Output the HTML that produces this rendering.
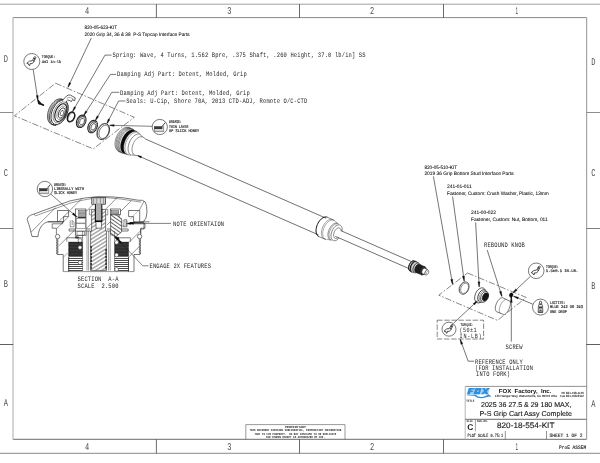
<!DOCTYPE html>
<html lang="en">
<head>
<meta charset="utf-8">
<title>820-18-554-KIT - 2025 36 27.5 &amp; 29 180 MAX, P-S Grip Cart Assy Complete</title>
<style>
html,body{margin:0;padding:0;background:#fff;overflow:hidden;}
body{position:relative;width:600px;height:463px;overflow:hidden;font-family:"Liberation Sans",sans-serif;}
svg{display:block;position:absolute;left:0;top:0;}
svg.main{filter:grayscale(1);}
svg text{text-rendering:geometricPrecision;}
</style>
</head>
<body>
<svg class="main" width="600" height="463" viewBox="0 0 600 463">
<rect x="0" y="0" width="600" height="463" fill="#ffffff"/>
<line x1="0.00" y1="4.20" x2="600.00" y2="4.20" stroke="#a0a0a0" stroke-width="1.0" />
<line x1="0.00" y1="453.30" x2="600.00" y2="453.30" stroke="#7a7a7a" stroke-width="0.9" />
<line x1="13.00" y1="17.60" x2="586.30" y2="17.60" stroke="#7a7a7a" stroke-width="0.9" />
<line x1="13.00" y1="439.30" x2="586.30" y2="439.30" stroke="#5a5a5a" stroke-width="0.9" />
<line x1="13.00" y1="17.20" x2="13.00" y2="439.70" stroke="#b8b8b8" stroke-width="1.2" />
<line x1="586.60" y1="17.20" x2="586.60" y2="439.70" stroke="#a4a4a4" stroke-width="1.2" />
<line x1="156.40" y1="4.00" x2="156.40" y2="17.80" stroke="#5c5c5c" stroke-width="0.9" />
<line x1="156.40" y1="439.10" x2="156.40" y2="453.60" stroke="#5c5c5c" stroke-width="0.9" />
<line x1="299.50" y1="4.00" x2="299.50" y2="17.80" stroke="#5c5c5c" stroke-width="0.9" />
<line x1="299.50" y1="439.10" x2="299.50" y2="453.60" stroke="#5c5c5c" stroke-width="0.9" />
<line x1="443.50" y1="4.00" x2="443.50" y2="17.80" stroke="#5c5c5c" stroke-width="0.9" />
<line x1="443.50" y1="439.10" x2="443.50" y2="453.60" stroke="#5c5c5c" stroke-width="0.9" />
<line x1="0.00" y1="112.50" x2="13.20" y2="112.50" stroke="#8e8e8e" stroke-width="1.0" />
<line x1="586.10" y1="112.50" x2="600.00" y2="112.50" stroke="#8e8e8e" stroke-width="1.0" />
<line x1="0.00" y1="228.50" x2="13.20" y2="228.50" stroke="#808080" stroke-width="1.0" />
<line x1="586.10" y1="228.50" x2="600.00" y2="228.50" stroke="#808080" stroke-width="1.0" />
<line x1="0.00" y1="344.50" x2="13.20" y2="344.50" stroke="#606060" stroke-width="1.0" />
<line x1="586.10" y1="344.50" x2="600.00" y2="344.50" stroke="#606060" stroke-width="1.0" />
<text x="87.00" y="14.40" font-family="'Liberation Mono', monospace" font-size="10.4" font-weight="normal" fill="#4a4a4a" text-anchor="middle" xml:space="preserve" textLength="4.20" lengthAdjust="spacingAndGlyphs" >4</text>
<text x="87.00" y="450.40" font-family="'Liberation Mono', monospace" font-size="10.4" font-weight="normal" fill="#4a4a4a" text-anchor="middle" xml:space="preserve" textLength="4.20" lengthAdjust="spacingAndGlyphs" >4</text>
<text x="229.30" y="14.40" font-family="'Liberation Mono', monospace" font-size="10.4" font-weight="normal" fill="#4a4a4a" text-anchor="middle" xml:space="preserve" textLength="4.20" lengthAdjust="spacingAndGlyphs" >3</text>
<text x="229.30" y="450.40" font-family="'Liberation Mono', monospace" font-size="10.4" font-weight="normal" fill="#4a4a4a" text-anchor="middle" xml:space="preserve" textLength="4.20" lengthAdjust="spacingAndGlyphs" >3</text>
<text x="372.00" y="14.40" font-family="'Liberation Mono', monospace" font-size="10.4" font-weight="normal" fill="#4a4a4a" text-anchor="middle" xml:space="preserve" textLength="4.20" lengthAdjust="spacingAndGlyphs" >2</text>
<text x="372.00" y="450.40" font-family="'Liberation Mono', monospace" font-size="10.4" font-weight="normal" fill="#4a4a4a" text-anchor="middle" xml:space="preserve" textLength="4.20" lengthAdjust="spacingAndGlyphs" >2</text>
<text x="516.90" y="14.40" font-family="'Liberation Sans', sans-serif" font-size="9.7" font-weight="normal" fill="#4a4a4a" text-anchor="middle" xml:space="preserve" textLength="2.60" lengthAdjust="spacingAndGlyphs" >1</text>
<text x="516.90" y="450.40" font-family="'Liberation Sans', sans-serif" font-size="9.7" font-weight="normal" fill="#4a4a4a" text-anchor="middle" xml:space="preserve" textLength="2.60" lengthAdjust="spacingAndGlyphs" >1</text>
<text x="5.90" y="62.00" font-family="'Liberation Mono', monospace" font-size="10.4" font-weight="normal" fill="#4a4a4a" text-anchor="middle" xml:space="preserve" textLength="4.20" lengthAdjust="spacingAndGlyphs" >D</text>
<text x="593.30" y="64.60" font-family="'Liberation Mono', monospace" font-size="10.4" font-weight="normal" fill="#4a4a4a" text-anchor="middle" xml:space="preserve" textLength="4.20" lengthAdjust="spacingAndGlyphs" >D</text>
<text x="5.90" y="175.70" font-family="'Liberation Mono', monospace" font-size="10.4" font-weight="normal" fill="#4a4a4a" text-anchor="middle" xml:space="preserve" textLength="4.20" lengthAdjust="spacingAndGlyphs" >C</text>
<text x="593.30" y="175.70" font-family="'Liberation Mono', monospace" font-size="10.4" font-weight="normal" fill="#4a4a4a" text-anchor="middle" xml:space="preserve" textLength="4.20" lengthAdjust="spacingAndGlyphs" >C</text>
<text x="5.90" y="286.70" font-family="'Liberation Mono', monospace" font-size="10.4" font-weight="normal" fill="#4a4a4a" text-anchor="middle" xml:space="preserve" textLength="4.20" lengthAdjust="spacingAndGlyphs" >B</text>
<text x="593.30" y="288.70" font-family="'Liberation Mono', monospace" font-size="10.4" font-weight="normal" fill="#4a4a4a" text-anchor="middle" xml:space="preserve" textLength="4.20" lengthAdjust="spacingAndGlyphs" >B</text>
<text x="5.90" y="405.50" font-family="'Liberation Mono', monospace" font-size="10.4" font-weight="normal" fill="#4a4a4a" text-anchor="middle" xml:space="preserve" textLength="4.20" lengthAdjust="spacingAndGlyphs" >A</text>
<text x="593.30" y="406.80" font-family="'Liberation Mono', monospace" font-size="10.4" font-weight="normal" fill="#4a4a4a" text-anchor="middle" xml:space="preserve" textLength="4.20" lengthAdjust="spacingAndGlyphs" >A</text>
<line x1="465.20" y1="386.40" x2="586.30" y2="386.40" stroke="#777" stroke-width="0.8" />
<line x1="465.20" y1="386.40" x2="465.20" y2="439.30" stroke="#adadad" stroke-width="0.9" />
<line x1="465.20" y1="419.30" x2="586.30" y2="419.30" stroke="#444" stroke-width="0.8" />
<line x1="475.40" y1="419.30" x2="475.40" y2="431.20" stroke="#777" stroke-width="0.7" />
<line x1="505.30" y1="431.00" x2="505.30" y2="439.30" stroke="#666" stroke-width="0.7" />
<line x1="546.50" y1="431.00" x2="546.50" y2="439.30" stroke="#666" stroke-width="0.7" />
<text x="498.80" y="393.40" font-family="'Liberation Sans', sans-serif" font-size="5.7" font-weight="bold" fill="#111" text-anchor="start" xml:space="preserve" textLength="52.60" lengthAdjust="spacingAndGlyphs" >FOX  Factory,  Inc.</text>
<text x="494.80" y="397.00" font-family="'Liberation Sans', sans-serif" font-size="3.1" font-weight="bold" fill="#1a1a1a" text-anchor="start" xml:space="preserve" textLength="62.40" lengthAdjust="spacingAndGlyphs" >130 Hangar Way, Watsonville, CA 95076 USA</text>
<text x="560.20" y="397.00" font-family="'Liberation Sans', sans-serif" font-size="3.1" font-weight="bold" fill="#1a1a1a" text-anchor="start" xml:space="preserve" textLength="23.80" lengthAdjust="spacingAndGlyphs" >Fax 831-768-9312</text>
<text x="561.40" y="393.50" font-family="'Liberation Sans', sans-serif" font-size="3.1" font-weight="bold" fill="#1a1a1a" text-anchor="start" xml:space="preserve" textLength="22.60" lengthAdjust="spacingAndGlyphs" >Ph 831-768-1100</text>
<text x="466.20" y="401.60" font-family="'Liberation Mono', monospace" font-size="3.3" font-weight="bold" fill="#333" text-anchor="start" xml:space="preserve" textLength="8.20" lengthAdjust="spacingAndGlyphs" >TITLE</text>
<text x="481.00" y="406.80" font-family="'Liberation Sans', sans-serif" font-size="7.1" font-weight="normal" fill="#111" text-anchor="start" xml:space="preserve" textLength="90.40" lengthAdjust="spacingAndGlyphs" stroke="#111" stroke-width="0.1">2025 36 27.5 &amp; 29 180 MAX,</text>
<text x="479.60" y="416.20" font-family="'Liberation Sans', sans-serif" font-size="7.1" font-weight="normal" fill="#111" text-anchor="start" xml:space="preserve" textLength="92.40" lengthAdjust="spacingAndGlyphs" stroke="#111" stroke-width="0.1">P-S Grip Cart Assy Complete</text>
<text x="466.40" y="421.80" font-family="'Liberation Mono', monospace" font-size="2.8" font-weight="bold" fill="#333" text-anchor="start" xml:space="preserve" textLength="6.60" lengthAdjust="spacingAndGlyphs" >SIZE</text>
<text x="477.00" y="422.00" font-family="'Liberation Mono', monospace" font-size="3.0" font-weight="bold" fill="#333" text-anchor="start" xml:space="preserve" textLength="11.40" lengthAdjust="spacingAndGlyphs" >DWG.NO.</text>
<text x="467.30" y="430.20" font-family="'Liberation Sans', sans-serif" font-size="8.4" font-weight="bold" fill="#111" text-anchor="start" xml:space="preserve" >C</text>
<text x="497.00" y="427.90" font-family="'Liberation Sans', sans-serif" font-size="7.9" font-weight="normal" fill="#111" text-anchor="start" xml:space="preserve" textLength="57.40" lengthAdjust="spacingAndGlyphs" stroke="#111" stroke-width="0.1">820-18-554-KIT</text>
<text x="467.60" y="437.30" font-family="'Liberation Mono', monospace" font-size="4.8" font-weight="normal" fill="#1a1a1a" text-anchor="start" xml:space="preserve" textLength="35.40" lengthAdjust="spacingAndGlyphs" stroke="#1a1a1a" stroke-width="0.12">PLOT SCALE 0.75:1</text>
<text x="549.50" y="437.30" font-family="'Liberation Mono', monospace" font-size="5.0" font-weight="normal" fill="#1a1a1a" text-anchor="start" xml:space="preserve" textLength="33.00" lengthAdjust="spacingAndGlyphs" stroke="#1a1a1a" stroke-width="0.12">SHEET 1 OF 2</text>
<text x="559.00" y="449.00" font-family="'Liberation Mono', monospace" font-size="5.2" font-weight="normal" fill="#1a1a1a" text-anchor="start" xml:space="preserve" textLength="27.20" lengthAdjust="spacingAndGlyphs" stroke="#1a1a1a" stroke-width="0.12">ProE ASSEM</text>
<line x1="245.80" y1="424.60" x2="345.00" y2="424.60" stroke="#555" stroke-width="0.6" />
<line x1="245.80" y1="424.60" x2="245.80" y2="439.30" stroke="#555" stroke-width="0.6" />
<line x1="345.00" y1="424.60" x2="345.00" y2="439.30" stroke="#555" stroke-width="0.6" />
<text x="295.40" y="428.00" font-family="'Liberation Mono', monospace" font-size="3.1" font-weight="bold" fill="#222" text-anchor="middle" xml:space="preserve" textLength="21.00" lengthAdjust="spacingAndGlyphs" >PROPRIETARY</text>
<text x="295.40" y="431.40" font-family="'Liberation Mono', monospace" font-size="3.1" font-weight="bold" fill="#222" text-anchor="middle" xml:space="preserve" textLength="92.00" lengthAdjust="spacingAndGlyphs" >THIS DOCUMENT CONTAINS CONFIDENTIAL, PROPRIETARY INFORMATION</text>
<text x="295.40" y="434.60" font-family="'Liberation Mono', monospace" font-size="3.1" font-weight="bold" fill="#222" text-anchor="middle" xml:space="preserve" textLength="82.00" lengthAdjust="spacingAndGlyphs" >THAT IS FOX PROPERTY.  DO NOT DISCLOSE TO OR DUPLICATE</text>
<text x="295.40" y="437.80" font-family="'Liberation Mono', monospace" font-size="3.1" font-weight="bold" fill="#222" text-anchor="middle" xml:space="preserve" textLength="59.00" lengthAdjust="spacingAndGlyphs" >FOR OTHERS EXCEPT AS AUTHORIZED BY FOX.</text>
<text x="84.40" y="29.00" font-family="'Liberation Sans', sans-serif" font-size="4.9" font-weight="normal" fill="#000" text-anchor="start" xml:space="preserve" textLength="32.60" lengthAdjust="spacingAndGlyphs" stroke="#000" stroke-width="0.05">820-05-623-KIT</text>
<text x="84.40" y="35.70" font-family="'Liberation Sans', sans-serif" font-size="4.9" font-weight="normal" fill="#000" text-anchor="start" xml:space="preserve" textLength="105.20" lengthAdjust="spacingAndGlyphs" stroke="#000" stroke-width="0.05">2020 Grip 34, 36 &amp; 38  P-S Topcap Interface Parts</text>
<text transform="translate(112.60 57.40) scale(1 1.250)" x="0" y="0" font-family="'Liberation Mono', monospace" font-size="5.44" font-weight="normal" fill="#262626" xml:space="preserve" textLength="252.92" lengthAdjust="spacing">Spring: Wave, 4 Turns, 1.562 Bpre, .375 Shaft, .260 Height, 37.0 lb/in] SS</text>
<text transform="translate(117.00 76.20) scale(1 1.250)" x="0" y="0" font-family="'Liberation Mono', monospace" font-size="5.44" font-weight="normal" fill="#262626" xml:space="preserve" textLength="129.80" lengthAdjust="spacing">Damping Adj Part: Detent, Molded, Grip</text>
<text transform="translate(120.00 94.80) scale(1 1.250)" x="0" y="0" font-family="'Liberation Mono', monospace" font-size="5.44" font-weight="normal" fill="#262626" xml:space="preserve" textLength="129.80" lengthAdjust="spacing">Damping Adj Part: Detent, Molded, Grip</text>
<text transform="translate(126.20 102.60) scale(1 1.250)" x="0" y="0" font-family="'Liberation Mono', monospace" font-size="5.44" font-weight="normal" fill="#262626" xml:space="preserve" textLength="181.10" lengthAdjust="spacing">Seals: U-Cip, Shore 70A, 2013 CTD-ADJ, Remote O/C-CTD</text>
<text x="424.40" y="168.60" font-family="'Liberation Sans', sans-serif" font-size="4.9" font-weight="normal" fill="#000" text-anchor="start" xml:space="preserve" textLength="32.60" lengthAdjust="spacingAndGlyphs" stroke="#000" stroke-width="0.05">820-05-510-KIT</text>
<text x="424.40" y="175.40" font-family="'Liberation Sans', sans-serif" font-size="4.9" font-weight="normal" fill="#000" text-anchor="start" xml:space="preserve" textLength="89.20" lengthAdjust="spacingAndGlyphs" stroke="#000" stroke-width="0.05">2019 36 Grip Bottom Stud Interface Parts</text>
<text x="447.00" y="188.00" font-family="'Liberation Sans', sans-serif" font-size="4.9" font-weight="normal" fill="#000" text-anchor="start" xml:space="preserve" textLength="24.60" lengthAdjust="spacingAndGlyphs" stroke="#000" stroke-width="0.05">241-01-011</text>
<text x="447.00" y="194.50" font-family="'Liberation Sans', sans-serif" font-size="4.9" font-weight="normal" fill="#000" text-anchor="start" xml:space="preserve" textLength="101.60" lengthAdjust="spacingAndGlyphs" stroke="#000" stroke-width="0.05">Fastener, Custom: Crush Washer, Plastic, 13mm</text>
<text x="471.00" y="214.00" font-family="'Liberation Sans', sans-serif" font-size="4.9" font-weight="normal" fill="#000" text-anchor="start" xml:space="preserve" textLength="25.00" lengthAdjust="spacingAndGlyphs" stroke="#000" stroke-width="0.05">241-00-022</text>
<text x="471.00" y="220.50" font-family="'Liberation Sans', sans-serif" font-size="4.9" font-weight="normal" fill="#000" text-anchor="start" xml:space="preserve" textLength="76.60" lengthAdjust="spacingAndGlyphs" stroke="#000" stroke-width="0.05">Fastener, Custom: Nut, Bottom, 011</text>
<text transform="translate(484.00 247.40) scale(1 1.250)" x="0" y="0" font-family="'Liberation Mono', monospace" font-size="5.44" font-weight="normal" fill="#262626" xml:space="preserve" textLength="40.88" lengthAdjust="spacing">REBOUND KNOB</text>
<text transform="translate(505.60 349.40) scale(1 1.250)" x="0" y="0" font-family="'Liberation Mono', monospace" font-size="5.44" font-weight="normal" fill="#262626" xml:space="preserve" textLength="16.94" lengthAdjust="spacing">SCREW</text>
<text transform="translate(475.00 363.60) scale(1 1.250)" x="0" y="0" font-family="'Liberation Mono', monospace" font-size="5.44" font-weight="normal" fill="#262626" xml:space="preserve" textLength="47.72" lengthAdjust="spacing">REFERENCE ONLY</text>
<text transform="translate(475.00 370.00) scale(1 1.250)" x="0" y="0" font-family="'Liberation Mono', monospace" font-size="5.44" font-weight="normal" fill="#262626" xml:space="preserve" textLength="57.98" lengthAdjust="spacing">(FOR INSTALLATION</text>
<text transform="translate(476.00 376.40) scale(1 1.250)" x="0" y="0" font-family="'Liberation Mono', monospace" font-size="5.44" font-weight="normal" fill="#262626" xml:space="preserve" textLength="34.04" lengthAdjust="spacing">INTO FORK)</text>
<text transform="translate(173.00 225.60) scale(1 1.250)" x="0" y="0" font-family="'Liberation Mono', monospace" font-size="5.44" font-weight="normal" fill="#262626" xml:space="preserve" textLength="51.14" lengthAdjust="spacing">NOTE ORIENTAION</text>
<text transform="translate(149.50 268.00) scale(1 1.250)" x="0" y="0" font-family="'Liberation Mono', monospace" font-size="5.44" font-weight="normal" fill="#262626" xml:space="preserve" textLength="61.40" lengthAdjust="spacing">ENGAGE 2X FEATURES</text>
<text transform="translate(77.60 280.80) scale(1 1.250)" x="0" y="0" font-family="'Liberation Mono', monospace" font-size="5.44" font-weight="normal" fill="#262626" xml:space="preserve" textLength="40.88" lengthAdjust="spacing">SECTION  A-A</text>
<text transform="translate(77.60 287.80) scale(1 1.250)" x="0" y="0" font-family="'Liberation Mono', monospace" font-size="5.44" font-weight="normal" fill="#262626" xml:space="preserve" textLength="40.88" lengthAdjust="spacing">SCALE  2.500</text>
<text x="41.80" y="58.30" font-family="'Liberation Mono', monospace" font-size="4.2" font-weight="normal" fill="#1a1a1a" stroke="#1a1a1a" stroke-width="0.16" xml:space="preserve" textLength="13.34" lengthAdjust="spacingAndGlyphs">TORQUE:</text>
<text x="41.80" y="62.60" font-family="'Liberation Mono', monospace" font-size="4.2" font-weight="normal" fill="#1a1a1a" stroke="#1a1a1a" stroke-width="0.16" xml:space="preserve" textLength="19.38" lengthAdjust="spacingAndGlyphs">4±1 in-lb</text>
<text x="169.10" y="123.40" font-family="'Liberation Mono', monospace" font-size="4.2" font-weight="normal" fill="#1a1a1a" stroke="#1a1a1a" stroke-width="0.16" xml:space="preserve" textLength="12.50" lengthAdjust="spacingAndGlyphs">GREASE:</text>
<text x="169.10" y="127.80" font-family="'Liberation Mono', monospace" font-size="4.2" font-weight="normal" fill="#1a1a1a" stroke="#1a1a1a" stroke-width="0.16" xml:space="preserve" textLength="19.28" lengthAdjust="spacingAndGlyphs">THIN LAYER</text>
<text x="169.10" y="132.20" font-family="'Liberation Mono', monospace" font-size="4.2" font-weight="normal" fill="#1a1a1a" stroke="#1a1a1a" stroke-width="0.16" xml:space="preserve" textLength="30.13" lengthAdjust="spacingAndGlyphs">OF SLICK HONEY</text>
<text x="54.00" y="185.80" font-family="'Liberation Mono', monospace" font-size="4.2" font-weight="normal" fill="#1a1a1a" stroke="#1a1a1a" stroke-width="0.16" xml:space="preserve" textLength="12.50" lengthAdjust="spacingAndGlyphs">GREASE:</text>
<text x="54.00" y="190.00" font-family="'Liberation Mono', monospace" font-size="4.2" font-weight="normal" fill="#1a1a1a" stroke="#1a1a1a" stroke-width="0.16" xml:space="preserve" textLength="30.13" lengthAdjust="spacingAndGlyphs">LIBERALLY WITH</text>
<text x="54.00" y="194.20" font-family="'Liberation Mono', monospace" font-size="4.2" font-weight="normal" fill="#1a1a1a" stroke="#1a1a1a" stroke-width="0.16" xml:space="preserve" textLength="23.18" lengthAdjust="spacingAndGlyphs">SLICK HONEY</text>
<text x="546.00" y="267.80" font-family="'Liberation Mono', monospace" font-size="4.2" font-weight="normal" fill="#1a1a1a" stroke="#1a1a1a" stroke-width="0.16" xml:space="preserve" textLength="12.50" lengthAdjust="spacingAndGlyphs">TORQUE:</text>
<text x="546.00" y="272.20" font-family="'Liberation Mono', monospace" font-size="4.2" font-weight="normal" fill="#1a1a1a" stroke="#1a1a1a" stroke-width="0.16" xml:space="preserve" textLength="32.08" lengthAdjust="spacingAndGlyphs">5.5±0.5 IN.LB.</text>
<text x="550.00" y="304.20" font-family="'Liberation Mono', monospace" font-size="4.2" font-weight="normal" fill="#1a1a1a" stroke="#1a1a1a" stroke-width="0.16" xml:space="preserve" textLength="15.48" lengthAdjust="spacingAndGlyphs">LOCTITE:</text>
<text x="550.00" y="308.40" font-family="'Liberation Mono', monospace" font-size="4.2" font-weight="normal" fill="#1a1a1a" stroke="#1a1a1a" stroke-width="0.16" xml:space="preserve" textLength="32.98" lengthAdjust="spacingAndGlyphs">BLUE 242 OR 243</text>
<text x="550.00" y="312.60" font-family="'Liberation Mono', monospace" font-size="4.2" font-weight="normal" fill="#1a1a1a" stroke="#1a1a1a" stroke-width="0.16" xml:space="preserve" textLength="16.88" lengthAdjust="spacingAndGlyphs">ONE DROP</text>
<text x="460.40" y="326.00" font-family="'Liberation Sans', sans-serif" font-size="3.9" font-weight="bold" fill="#111" text-anchor="start" xml:space="preserve" textLength="12.20" lengthAdjust="spacingAndGlyphs" >TORQUE:</text>
<text transform="translate(459.60 332.00) scale(1 1.250)" x="0" y="0" font-family="'Liberation Mono', monospace" font-size="5.12" font-weight="normal" fill="#262626" xml:space="preserve" textLength="17.07" lengthAdjust="spacing">(50±1</text>
<text transform="translate(459.60 338.40) scale(1 1.250)" x="0" y="0" font-family="'Liberation Mono', monospace" font-size="5.12" font-weight="normal" fill="#262626" xml:space="preserve" textLength="22.07" lengthAdjust="spacing">IN-LB)</text>
<line x1="138.33" y1="155.87" x2="318.73" y2="234.98" stroke="#222" stroke-width="0.65" />
<line x1="145.67" y1="139.11" x2="326.07" y2="218.22" stroke="#222" stroke-width="0.65" />
<path d="M118.78,151.50 L117.87,150.98 L117.06,150.27 L116.37,149.37 L115.82,148.30 L115.40,147.09 L115.13,145.75 L115.01,144.30 L115.04,142.77 L115.23,141.19 L115.57,139.58 L116.05,137.97 L116.67,136.39 L117.42,134.86 L118.27,133.41 L119.23,132.07 L120.27,130.86 L121.37,129.80 L122.51,128.91 L123.68,128.20 L124.86,127.68 L126.02,127.37 L127.15,127.27 L128.22,127.38 L129.22,127.69" fill="none" stroke="#2a2a2a" stroke-width="0.55" />
<path d="M119.83,151.97 L118.92,151.44 L118.11,150.73 L117.42,149.83 L116.87,148.76 L116.45,147.55 L116.18,146.21 L116.06,144.76 L116.09,143.23 L116.28,141.65 L116.62,140.04 L117.10,138.43 L117.72,136.85 L118.47,135.32 L119.32,133.87 L120.28,132.54 L121.32,131.32 L122.42,130.26 L123.56,129.37 L124.73,128.66 L125.91,128.14 L127.07,127.83 L128.20,127.73 L129.27,127.84 L130.27,128.15" fill="none" stroke="#2a2a2a" stroke-width="0.55" />
<path d="M120.88,152.43 L119.97,151.90 L119.16,151.19 L118.47,150.29 L117.92,149.22 L117.50,148.01 L117.23,146.67 L117.11,145.22 L117.14,143.69 L117.33,142.11 L117.67,140.50 L118.15,138.89 L118.77,137.31 L119.52,135.78 L120.37,134.34 L121.33,133.00 L122.37,131.78 L123.47,130.72 L124.61,129.83 L125.78,129.12 L126.96,128.60 L128.12,128.29 L129.25,128.19 L130.32,128.30 L131.32,128.61" fill="none" stroke="#2a2a2a" stroke-width="0.55" />
<path d="M121.93,152.89 L121.02,152.36 L120.21,151.65 L119.52,150.75 L118.97,149.68 L118.55,148.47 L118.28,147.13 L118.16,145.68 L118.19,144.15 L118.38,142.57 L118.72,140.96 L119.20,139.35 L119.82,137.77 L120.57,136.24 L121.42,134.80 L122.38,133.46 L123.42,132.25 L124.52,131.18 L125.66,130.29 L126.83,129.58 L128.01,129.06 L129.17,128.75 L130.30,128.65 L131.37,128.76 L132.37,129.07" fill="none" stroke="#2a2a2a" stroke-width="0.55" />
<path d="M122.98,153.35 L122.07,152.83 L121.26,152.11 L120.57,151.21 L120.02,150.14 L119.60,148.93 L119.33,147.59 L119.21,146.14 L119.24,144.61 L119.43,143.03 L119.77,141.42 L120.25,139.81 L120.87,138.23 L121.62,136.70 L122.47,135.26 L123.43,133.92 L124.47,132.71 L125.57,131.64 L126.71,130.75 L127.88,130.04 L129.06,129.52 L130.22,129.21 L131.35,129.11 L132.42,129.22 L133.42,129.54" fill="none" stroke="#2a2a2a" stroke-width="0.55" />
<line x1="118.78" y1="151.50" x2="123.38" y2="153.52" stroke="#333" stroke-width="0.5" />
<line x1="129.22" y1="127.69" x2="133.82" y2="129.71" stroke="#333" stroke-width="0.5" />
<path d="M123.90,153.42 L123.06,152.94 L122.33,152.26 L121.71,151.41 L121.21,150.39 L120.85,149.22 L120.62,147.92 L120.54,146.53 L120.61,145.05 L120.82,143.51 L121.16,141.94 L121.65,140.38 L122.25,138.83 L122.98,137.34 L123.80,135.92 L124.72,134.61 L125.71,133.41 L126.75,132.36 L127.84,131.48 L128.94,130.76 L130.04,130.24 L131.13,129.91 L132.18,129.79 L133.18,129.87 L134.10,130.16 L137.02,131.66 L136.11,131.38 L135.13,131.30 L134.10,131.42 L133.03,131.74 L131.94,132.25 L130.85,132.95 L129.79,133.83 L128.76,134.86 L127.79,136.04 L126.89,137.33 L126.07,138.73 L125.36,140.20 L124.76,141.71 L124.29,143.26 L123.94,144.80 L123.74,146.31 L123.68,147.77 L123.76,149.14 L123.98,150.42 L124.33,151.57 L124.82,152.57 L125.43,153.41 L126.16,154.08 L126.98,154.55 Z" fill="#0a0a0a" stroke="#1a1a1a" stroke-width="0.4" />
<path d="M128.50,154.89 L127.66,154.41 L126.91,153.74 L126.28,152.91 L125.77,151.91 L125.39,150.78 L125.14,149.52 L125.04,148.16 L125.08,146.73 L125.26,145.25 L125.59,143.74 L126.04,142.23 L126.62,140.75 L127.32,139.32 L128.12,137.96 L129.01,136.70 L129.98,135.56 L131.01,134.56 L132.07,133.72 L133.16,133.05 L134.25,132.56 L135.33,132.26 L136.38,132.16 L137.37,132.26 L138.30,132.55" fill="none" stroke="#444" stroke-width="0.5" />
<path d="M131.22,155.21 L130.45,154.77 L129.77,154.15 L129.19,153.37 L128.72,152.45 L128.38,151.39 L128.16,150.22 L128.07,148.96 L128.12,147.63 L128.29,146.25 L128.60,144.84 L129.03,143.43 L129.57,142.04 L130.22,140.70 L130.97,139.43 L131.80,138.26 L132.70,137.19 L133.65,136.25 L134.63,135.46 L135.64,134.83 L136.65,134.37 L137.65,134.08 L138.61,133.98 L139.53,134.07 L140.38,134.33" fill="none" stroke="#333" stroke-width="0.6" />
<line x1="127.02" y1="154.46" x2="131.22" y2="155.21" stroke="#444" stroke-width="0.5" />
<line x1="136.98" y1="131.75" x2="140.38" y2="134.33" stroke="#444" stroke-width="0.5" />
<path d="M134.66,154.98 L134.00,154.60 L133.42,154.07 L132.93,153.40 L132.54,152.61 L132.24,151.70 L132.06,150.70 L131.99,149.62 L132.03,148.47 L132.19,147.28 L132.45,146.07 L132.82,144.86 L133.29,143.67 L133.85,142.52 L134.49,141.43 L135.20,140.41 L135.97,139.50 L136.78,138.69 L137.63,138.01 L138.49,137.46 L139.35,137.06 L140.20,136.82 L141.03,136.73 L141.81,136.80 L142.54,137.03" fill="none" stroke="#444" stroke-width="0.6" />
<line x1="131.66" y1="154.75" x2="138.33" y2="155.87" stroke="#333" stroke-width="0.6" />
<line x1="140.34" y1="134.97" x2="145.67" y2="139.11" stroke="#333" stroke-width="0.6" />
<line x1="140.94" y1="157.02" x2="141.28" y2="157.17" stroke="#1a1a1a" stroke-width="0.8" />
<path d="M137.95,155.38 L141.69,156.22 L140.86,158.11 L137.70,155.93 Z" fill="#0a0a0a" stroke="#0a0a0a" stroke-width="0.2"/>
<path d="M318.94,236.66 L318.23,236.24 L317.59,235.67 L317.06,234.95 L316.63,234.09 L316.31,233.11 L316.11,232.02 L316.03,230.85 L316.07,229.61 L316.24,228.33 L316.53,227.02 L316.92,225.71 L317.43,224.42 L318.04,223.17 L318.73,221.99 L319.50,220.90 L320.33,219.90 L321.21,219.03 L322.13,218.29 L323.06,217.71 L324.00,217.28 L324.92,217.01 L325.82,216.92 L326.67,216.99 L327.46,217.24" fill="none" stroke="#111" stroke-width="1.0" />
<path d="M324.34,239.02 L323.63,238.61 L322.99,238.04 L322.46,237.32 L322.03,236.46 L321.71,235.48 L321.51,234.39 L321.43,233.22 L321.47,231.98 L321.64,230.69 L321.93,229.38 L322.32,228.07 L322.83,226.79 L323.44,225.54 L324.13,224.36 L324.90,223.26 L325.73,222.27 L326.61,221.40 L327.53,220.66 L328.46,220.07 L329.40,219.64 L330.32,219.38 L331.22,219.28 L332.07,219.36 L332.86,219.61" fill="none" stroke="#444" stroke-width="0.5" />
<path d="M325.62,239.37 L324.92,238.96 L324.30,238.40 L323.77,237.69 L323.34,236.85 L323.03,235.88 L322.83,234.82 L322.75,233.67 L322.79,232.45 L322.96,231.19 L323.23,229.90 L323.63,228.62 L324.12,227.35 L324.72,226.13 L325.40,224.97 L326.15,223.90 L326.97,222.92 L327.84,222.07 L328.74,221.35 L329.66,220.77 L330.58,220.35 L331.49,220.09 L332.36,220.00 L333.20,220.07 L333.98,220.32" fill="none" stroke="#555" stroke-width="0.5" />
<line x1="318.94" y1="236.66" x2="326.42" y2="239.72" stroke="#333" stroke-width="0.6" />
<line x1="327.46" y1="217.24" x2="334.78" y2="220.67" stroke="#333" stroke-width="0.6" />
<path d="M330.39,239.93 L329.78,239.58 L329.25,239.09 L328.80,238.48 L328.44,237.76 L328.18,236.93 L328.01,236.01 L327.95,235.01 L327.99,233.96 L328.13,232.87 L328.38,231.76 L328.72,230.65 L329.15,229.56 L329.66,228.50 L330.25,227.49 L330.90,226.56 L331.60,225.72 L332.35,224.98 L333.12,224.35 L333.91,223.85 L334.70,223.48 L335.48,223.25 L336.23,223.17 L336.95,223.23 L337.61,223.44" fill="none" stroke="#333" stroke-width="0.6" />
<path d="M331.47,240.18 L330.87,239.84 L330.35,239.37 L329.91,238.77 L329.56,238.06 L329.30,237.25 L329.13,236.34 L329.07,235.37 L329.11,234.34 L329.25,233.28 L329.49,232.19 L329.82,231.10 L330.24,230.03 L330.74,229.00 L331.31,228.02 L331.95,227.11 L332.64,226.28 L333.37,225.56 L334.13,224.95 L334.90,224.46 L335.68,224.10 L336.44,223.88 L337.18,223.80 L337.88,223.86 L338.53,224.06" fill="none" stroke="#555" stroke-width="0.5" />
<line x1="326.86" y1="239.26" x2="331.47" y2="240.18" stroke="#444" stroke-width="0.5" />
<line x1="334.74" y1="221.31" x2="338.53" y2="224.06" stroke="#444" stroke-width="0.5" />
<path d="M333.23,240.52 L332.67,240.19 L332.18,239.75 L331.77,239.18 L331.43,238.50 L331.19,237.73 L331.04,236.87 L330.99,235.95 L331.03,234.97 L331.16,233.95 L331.39,232.91 L331.71,231.88 L332.11,230.86 L332.59,229.87 L333.14,228.93 L333.74,228.06 L334.40,227.27 L335.09,226.58 L335.81,225.99 L336.54,225.52 L337.28,225.18 L338.00,224.96 L338.70,224.88 L339.36,224.94 L339.97,225.13 L340.53,225.45 L341.02,225.90 L341.43,226.47 L341.77,227.15 L342.01,227.92 L342.16,228.78 L342.21,229.70 L342.17,230.68 L342.04,231.70 L341.81,232.73 L341.49,233.77 L341.09,234.79 L340.61,235.78 L340.06,236.72 L339.46,237.59 L338.80,238.37 L338.11,239.07 L337.39,239.66 L336.66,240.13 L335.92,240.47 L335.20,240.68 L334.50,240.76 L333.84,240.71 L333.23,240.52 Z" fill="#fff" stroke="#333" stroke-width="0.6" />
<path d="M335.15,238.30 L334.78,238.09 L334.45,237.79 L334.17,237.41 L333.94,236.95 L333.78,236.44 L333.67,235.86 L333.63,235.25 L333.66,234.59 L333.75,233.91 L333.90,233.22 L334.11,232.53 L334.38,231.85 L334.70,231.19 L335.06,230.57 L335.47,229.99 L335.91,229.46 L336.37,229.00 L336.85,228.61 L337.34,228.30 L337.84,228.07 L338.32,227.93 L338.79,227.88 L339.24,227.92 L339.65,228.05 L340.02,228.26 L340.35,228.56 L340.63,228.94 L340.86,229.40 L341.02,229.91 L341.13,230.49 L341.17,231.10 L341.14,231.76 L341.05,232.44 L340.90,233.13 L340.69,233.82 L340.42,234.50 L340.10,235.16 L339.74,235.78 L339.33,236.36 L338.89,236.89 L338.43,237.35 L337.95,237.74 L337.46,238.05 L336.96,238.28 L336.48,238.42 L336.01,238.47 L335.56,238.43 L335.15,238.30 Z" fill="#fff" stroke="#333" stroke-width="0.6" />
<path d="M340.89,230.66 L413.89,262.67 L410.91,269.45 L335.51,236.39 Z" fill="#fff" stroke="none" stroke-width="0" />
<line x1="340.89" y1="230.66" x2="413.89" y2="262.67" stroke="#222" stroke-width="0.65" />
<line x1="335.31" y1="236.30" x2="410.91" y2="269.45" stroke="#222" stroke-width="0.65" />
<path d="M410.03,270.92 L409.68,270.71 L409.36,270.43 L409.10,270.06 L408.89,269.63 L408.73,269.13 L408.64,268.58 L408.60,267.99 L408.63,267.36 L408.72,266.71 L408.87,266.04 L409.07,265.37 L409.33,264.72 L409.64,264.08 L409.99,263.48 L410.38,262.92 L410.80,262.41 L411.24,261.97 L411.71,261.59 L412.17,261.29 L412.64,261.06 L413.11,260.92 L413.55,260.87 L413.98,260.91 L414.37,261.03 L416.05,261.55 L415.64,261.42 L415.20,261.38 L414.74,261.44 L414.26,261.58 L413.77,261.81 L413.29,262.13 L412.81,262.52 L412.35,262.98 L411.91,263.51 L411.51,264.09 L411.14,264.71 L410.83,265.37 L410.56,266.05 L410.34,266.74 L410.19,267.43 L410.10,268.11 L410.07,268.76 L410.11,269.38 L410.21,269.95 L410.37,270.47 L410.58,270.92 L410.86,271.29 L411.18,271.59 L411.55,271.80 Z" fill="#fff" stroke="#1a1a1a" stroke-width="0.8" />
<path d="M410.03,270.92 L409.68,270.72 L409.37,270.43 L409.11,270.07 L408.90,269.64 L408.75,269.14 L408.66,268.59 L408.63,268.00 L408.66,267.37 L408.75,266.72 L408.90,266.05 L409.10,265.39 L409.36,264.73 L409.67,264.09 L410.02,263.49 L410.41,262.93 L410.83,262.42 L411.27,261.98 L411.73,261.60 L412.19,261.29 L412.66,261.07 L413.12,260.93 L413.56,260.88 L413.98,260.91 L414.37,261.03" fill="none" stroke="#111" stroke-width="1.0" />
<path d="M411.91,272.07 L411.54,271.85 L411.21,271.55 L410.93,271.17 L410.71,270.71 L410.54,270.19 L410.44,269.61 L410.41,268.98 L410.44,268.31 L410.53,267.63 L410.69,266.92 L410.90,266.22 L411.18,265.53 L411.50,264.86 L411.87,264.22 L412.28,263.63 L412.73,263.09 L413.20,262.62 L413.68,262.22 L414.18,261.90 L414.67,261.67 L415.16,261.52 L415.63,261.47 L416.07,261.50 L416.49,261.63" fill="none" stroke="#111" stroke-width="1.1" />
<path d="M412.31,272.25 L411.94,272.03 L411.61,271.73 L411.33,271.34 L411.10,270.88 L410.94,270.36 L410.84,269.78 L410.80,269.15 L410.83,268.49 L410.93,267.80 L411.08,267.10 L411.30,266.39 L411.57,265.70 L411.90,265.03 L412.27,264.39 L412.68,263.80 L413.12,263.27 L413.59,262.80 L414.08,262.40 L414.57,262.08 L415.07,261.84 L415.56,261.70 L416.03,261.64 L416.47,261.68 L416.89,261.81 L418.49,263.05 L418.11,262.94 L417.70,262.90 L417.27,262.95 L416.83,263.09 L416.38,263.30 L415.92,263.59 L415.48,263.96 L415.05,264.39 L414.65,264.87 L414.27,265.41 L413.93,265.99 L413.64,266.61 L413.39,267.24 L413.19,267.88 L413.05,268.52 L412.96,269.15 L412.94,269.75 L412.97,270.33 L413.06,270.86 L413.21,271.34 L413.41,271.75 L413.67,272.10 L413.97,272.38 L414.31,272.58 Z" fill="#ddd" stroke="#1a1a1a" stroke-width="0.6" />
<path d="M414.51,272.67 L414.17,272.47 L413.87,272.19 L413.62,271.84 L413.42,271.43 L413.27,270.95 L413.18,270.42 L413.15,269.85 L413.18,269.24 L413.26,268.61 L413.41,267.97 L413.60,267.33 L413.85,266.70 L414.15,266.09 L414.49,265.51 L414.86,264.97 L415.26,264.48 L415.69,264.05 L416.13,263.68 L416.58,263.39 L417.03,263.18 L417.48,263.04 L417.91,262.99 L418.31,263.03 L418.69,263.14 L419.03,263.34 L419.33,263.62 L419.58,263.97 L419.78,264.38 L419.93,264.86 L420.02,265.39 L420.05,265.96 L420.02,266.57 L419.94,267.19 L419.79,267.84 L419.60,268.48 L419.35,269.11 L419.05,269.72 L418.71,270.30 L418.34,270.84 L417.94,271.33 L417.51,271.76 L417.07,272.12 L416.62,272.42 L416.17,272.63 L415.72,272.76 L415.29,272.82 L414.89,272.78 L414.51,272.67 Z" fill="#eee" stroke="#222" stroke-width="0.8" />
<path d="M415.79,272.46 L415.50,272.29 L415.24,272.05 L415.02,271.75 L414.84,271.39 L414.71,270.97 L414.63,270.52 L414.60,270.02 L414.63,269.50 L414.70,268.95 L414.82,268.40 L414.99,267.84 L415.21,267.29 L415.47,266.77 L415.76,266.26 L416.08,265.80 L416.43,265.37 L416.80,265.00 L417.19,264.69 L417.58,264.43 L417.97,264.25 L418.35,264.13 L418.73,264.09 L419.08,264.12 L419.41,264.22 L425.13,266.95 L424.81,266.85 L424.48,266.82 L424.12,266.86 L423.75,266.97 L423.38,267.15 L423.01,267.39 L422.64,267.69 L422.29,268.05 L421.95,268.45 L421.64,268.90 L421.36,269.38 L421.12,269.88 L420.91,270.41 L420.75,270.94 L420.63,271.47 L420.56,271.99 L420.54,272.49 L420.56,272.96 L420.64,273.40 L420.76,273.80 L420.93,274.14 L421.14,274.43 L421.39,274.66 L421.67,274.82 Z" fill="#1c1c1c" stroke="#1a1a1a" stroke-width="0.6" />
<path d="M421.67,274.82 L421.39,274.66 L421.14,274.43 L420.93,274.14 L420.76,273.79 L420.64,273.40 L420.56,272.96 L420.53,272.49 L420.55,271.99 L420.62,271.47 L420.74,270.94 L420.90,270.40 L421.11,269.88 L421.36,269.38 L421.64,268.90 L421.95,268.45 L422.28,268.05 L422.63,267.69 L423.00,267.39 L423.38,267.15 L423.75,266.97 L424.12,266.86 L424.48,266.82 L424.81,266.85 L425.13,266.95 L425.41,267.11 L425.66,267.34 L425.87,267.63 L426.04,267.98 L426.16,268.37 L426.24,268.81 L426.27,269.29 L426.25,269.79 L426.18,270.31 L426.06,270.84 L425.90,271.37 L425.69,271.89 L425.44,272.40 L425.16,272.87 L424.85,273.32 L424.52,273.72 L424.17,274.08 L423.80,274.38 L423.42,274.62 L423.05,274.80 L422.68,274.91 L422.32,274.95 L421.99,274.92 L421.67,274.82 Z" fill="#333" stroke="#222" stroke-width="0.6" />
<path d="M422.60,273.81 L422.40,273.69 L422.22,273.53 L422.08,273.33 L421.96,273.09 L421.87,272.82 L421.82,272.51 L421.80,272.18 L421.82,271.83 L421.87,271.47 L421.95,271.10 L422.06,270.73 L422.21,270.36 L422.38,270.01 L422.57,269.68 L422.79,269.36 L423.02,269.08 L423.27,268.83 L423.53,268.62 L423.79,268.46 L424.05,268.33 L424.30,268.26 L424.55,268.23 L424.79,268.25 L425.00,268.31 L427.88,269.90 L427.69,269.84 L427.48,269.83 L427.25,269.85 L427.02,269.92 L426.79,270.03 L426.55,270.18 L426.32,270.37 L426.10,270.60 L425.89,270.85 L425.70,271.13 L425.52,271.43 L425.37,271.75 L425.24,272.08 L425.13,272.41 L425.06,272.74 L425.02,273.07 L425.00,273.38 L425.02,273.68 L425.07,273.96 L425.14,274.20 L425.25,274.42 L425.38,274.60 L425.54,274.75 L425.72,274.85 Z" fill="#fff" stroke="#1a1a1a" stroke-width="0.6" />
<path d="M425.72,274.85 L425.53,274.74 L425.37,274.60 L425.24,274.42 L425.13,274.20 L425.05,273.95 L425.00,273.67 L424.98,273.37 L424.99,273.06 L425.03,272.73 L425.10,272.40 L425.21,272.06 L425.33,271.73 L425.49,271.42 L425.67,271.12 L425.86,270.84 L426.07,270.58 L426.30,270.36 L426.53,270.17 L426.77,270.02 L427.01,269.91 L427.24,269.85 L427.47,269.82 L427.68,269.84 L427.88,269.90 L428.07,270.01 L428.23,270.15 L428.36,270.34 L428.47,270.56 L428.55,270.81 L428.60,271.08 L428.62,271.38 L428.61,271.70 L428.57,272.02 L428.50,272.36 L428.39,272.69 L428.27,273.02 L428.11,273.34 L427.93,273.64 L427.74,273.92 L427.53,274.17 L427.30,274.39 L427.07,274.58 L426.83,274.73 L426.59,274.84 L426.36,274.91 L426.13,274.93 L425.92,274.91 L425.72,274.85 Z" fill="#fff" stroke="#333" stroke-width="0.6" />
<path d="M426.96,274.19 L426.86,274.13 L426.77,274.05 L426.69,273.94 L426.63,273.82 L426.59,273.67 L426.56,273.51 L426.55,273.33 L426.56,273.15 L426.59,272.95 L426.64,272.76 L426.70,272.56 L426.78,272.37 L426.87,272.18 L426.97,272.00 L427.08,271.83 L427.21,271.68 L427.34,271.55 L427.47,271.44 L427.61,271.35 L427.74,271.28 L427.88,271.24 L428.01,271.22 L428.13,271.23 L428.24,271.26 L428.34,271.32 L428.43,271.41 L428.51,271.51 L428.57,271.64 L428.61,271.79 L428.64,271.95 L428.65,272.12 L428.64,272.31 L428.61,272.50 L428.56,272.70 L428.50,272.89 L428.42,273.09 L428.33,273.28 L428.23,273.46 L428.12,273.62 L427.99,273.77 L427.86,273.91 L427.73,274.02 L427.59,274.11 L427.46,274.18 L427.32,274.22 L427.19,274.24 L427.07,274.23 L426.96,274.19 Z" fill="#fff" stroke="#555" stroke-width="0.5" />
<path d="M55.60,83.20 L134.30,117.30 L93.20,148.90 L14.40,115.80 Z" fill="none" stroke="#262626" stroke-width="0.55" stroke-dasharray="6.4 1.8 1.6 1.8"/>
<line x1="91.30" y1="38.00" x2="70.11" y2="82.74" stroke="#1a1a1a" stroke-width="0.6" />
<path d="M67.73,87.07 L69.23,82.33 L70.99,83.16 L68.27,87.33 Z" fill="#0a0a0a" stroke="#0a0a0a" stroke-width="0.2"/>
<line x1="105.00" y1="55.10" x2="111.60" y2="55.10" stroke="#1a1a1a" stroke-width="0.6" />
<line x1="105.00" y1="55.10" x2="75.06" y2="107.13" stroke="#1a1a1a" stroke-width="0.6" />
<path d="M72.34,111.25 L74.21,106.64 L75.91,107.61 L72.86,111.55 Z" fill="#0a0a0a" stroke="#0a0a0a" stroke-width="0.2"/>
<line x1="110.40" y1="74.40" x2="116.20" y2="74.40" stroke="#1a1a1a" stroke-width="0.6" />
<line x1="110.40" y1="74.40" x2="86.48" y2="111.26" stroke="#1a1a1a" stroke-width="0.6" />
<path d="M83.55,115.24 L85.66,110.73 L87.30,111.80 L84.05,115.56 Z" fill="#0a0a0a" stroke="#0a0a0a" stroke-width="0.2"/>
<line x1="111.80" y1="92.30" x2="119.20" y2="92.30" stroke="#1a1a1a" stroke-width="0.6" />
<line x1="111.80" y1="92.30" x2="97.89" y2="116.14" stroke="#1a1a1a" stroke-width="0.6" />
<path d="M95.14,120.25 L97.04,115.65 L98.73,116.63 L95.66,120.55 Z" fill="#0a0a0a" stroke="#0a0a0a" stroke-width="0.2"/>
<line x1="118.60" y1="101.00" x2="125.40" y2="101.00" stroke="#1a1a1a" stroke-width="0.6" />
<line x1="118.60" y1="101.00" x2="109.13" y2="119.28" stroke="#1a1a1a" stroke-width="0.6" />
<path d="M106.73,123.26 L108.27,118.83 L110.00,119.73 L107.27,123.54 Z" fill="#0a0a0a" stroke="#0a0a0a" stroke-width="0.2"/>
<line x1="152.20" y1="126.30" x2="114.24" y2="125.41" stroke="#1a1a1a" stroke-width="0.55" />
<path d="M109.61,125.00 L114.26,124.43 L114.22,126.39 L109.59,125.60 Z" fill="#0a0a0a" stroke="#0a0a0a" stroke-width="0.2"/>
<line x1="33.20" y1="69.50" x2="37.15" y2="95.33" stroke="#1a1a1a" stroke-width="0.6" />
<path d="M37.60,100.25 L36.13,95.48 L38.18,95.17 L38.20,100.15 Z" fill="#0a0a0a" stroke="#0a0a0a" stroke-width="0.2"/>
<path d="M38.2,100.8 L39.6,103.4 L43.2,105.0" fill="none" stroke="#111" stroke-width="1.9" stroke-linecap="round" stroke-linejoin="round"/>
<circle cx="39.40" cy="103.00" r="1.30" fill="#111" stroke="#111" stroke-width="0.4"/>
<path d="M56.24,125.43 L54.85,125.45 L53.56,125.15 L52.40,124.52 L51.41,123.59 L50.61,122.38 L50.02,120.91 L49.65,119.24 L49.51,117.40 L49.62,115.43 L49.95,113.39 L50.52,111.33 L51.29,109.31 L52.26,107.36 L53.39,105.56 L54.66,103.93 L56.04,102.52 L57.49,101.37 L58.97,100.51 L60.44,99.95 L61.88,99.72 L63.23,99.82 L64.48,100.25 L65.58,100.99 L66.50,102.02" fill="none" stroke="#1a1a1a" stroke-width="0.8" />
<path d="M55.23,124.99 L53.84,125.01 L52.55,124.70 L51.40,124.08 L50.41,123.15 L49.60,121.93 L49.01,120.47 L48.64,118.80 L48.51,116.95 L48.61,114.99 L48.95,112.95 L49.51,110.89 L50.28,108.87 L51.25,106.92 L52.38,105.11 L53.65,103.49 L55.03,102.08 L56.48,100.93 L57.96,100.07 L59.44,99.51 L60.87,99.28 L62.23,99.38 L63.47,99.80 L64.57,100.54 L65.49,101.58" fill="none" stroke="#444" stroke-width="0.55" />
<path d="M54.22,124.55 L52.83,124.57 L51.54,124.26 L50.39,123.64 L49.40,122.70 L48.60,121.49 L48.00,120.03 L47.64,118.36 L47.50,116.51 L47.60,114.55 L47.94,112.51 L48.50,110.45 L49.28,108.42 L50.24,106.48 L51.37,104.67 L52.65,103.04 L54.02,101.64 L55.47,100.49 L56.95,99.63 L58.43,99.07 L59.86,98.84 L61.22,98.94 L62.46,99.36 L63.56,100.10 L64.49,101.14" fill="none" stroke="#1a1a1a" stroke-width="0.75" />
<ellipse cx="59.60" cy="112.40" rx="7.60" ry="13.00" transform="rotate(23.67745095004319 59.60 112.40)" fill="#fff" stroke="#1a1a1a" stroke-width="0.8"/>
<path d="M62.6,100.2 L66.6,96.0 Q68.4,94.4 70.6,95.2 L75.2,97.8 L74.6,100.8 L72.4,99.6 L71.4,101.6 L69.0,100.2 Q67.4,99.6 66.6,101.0 L65.4,103.2" fill="#fff" stroke="#1a1a1a" stroke-width="0.7" />
<path d="M66.8,98.6 Q68.6,96.6 70.6,97.6 L73.4,99.2" fill="none" stroke="#444" stroke-width="0.5" />
<ellipse cx="60.40" cy="112.40" rx="6.40" ry="11.20" transform="rotate(23.67745095004319 60.40 112.40)" fill="none" stroke="#444" stroke-width="0.55"/>
<ellipse cx="60.80" cy="112.60" rx="5.20" ry="9.40" transform="rotate(23.67745095004319 60.80 112.60)" fill="none" stroke="#1a1a1a" stroke-width="1.1"/>
<ellipse cx="61.40" cy="112.80" rx="4.00" ry="7.20" transform="rotate(23.67745095004319 61.40 112.80)" fill="none" stroke="#555" stroke-width="0.5"/>
<ellipse cx="61.80" cy="113.00" rx="3.00" ry="5.40" transform="rotate(23.67745095004319 61.80 113.00)" fill="none" stroke="#222" stroke-width="0.8"/>
<ellipse cx="62.00" cy="113.10" rx="1.60" ry="2.80" transform="rotate(23.67745095004319 62.00 113.10)" fill="none" stroke="#333" stroke-width="0.7"/>
<ellipse cx="71.00" cy="116.90" rx="3.30" ry="5.10" transform="rotate(23.67745095004319 71.00 116.90)" fill="none" stroke="#111" stroke-width="1.5"/>
<ellipse cx="71.70" cy="117.20" rx="3.00" ry="4.70" transform="rotate(23.67745095004319 71.70 117.20)" fill="none" stroke="#444" stroke-width="0.5"/>
<ellipse cx="81.20" cy="121.30" rx="4.50" ry="6.60" transform="rotate(23.67745095004319 81.20 121.30)" fill="#fff" stroke="#1a1a1a" stroke-width="0.9"/>
<ellipse cx="81.70" cy="121.50" rx="3.30" ry="5.00" transform="rotate(23.67745095004319 81.70 121.50)" fill="none" stroke="#444" stroke-width="0.6"/>
<ellipse cx="82.00" cy="121.60" rx="2.20" ry="3.40" transform="rotate(23.67745095004319 82.00 121.60)" fill="none" stroke="#333" stroke-width="0.7"/>
<line x1="79.31" y1="127.57" x2="80.29" y2="126.05" stroke="#1a1a1a" stroke-width="0.6" />
<line x1="78.25" y1="127.19" x2="79.57" y2="125.79" stroke="#1a1a1a" stroke-width="0.6" />
<line x1="77.37" y1="126.45" x2="78.97" y2="125.27" stroke="#1a1a1a" stroke-width="0.6" />
<line x1="76.74" y1="125.40" x2="78.54" y2="124.52" stroke="#1a1a1a" stroke-width="0.6" />
<line x1="76.38" y1="124.09" x2="78.31" y2="123.58" stroke="#1a1a1a" stroke-width="0.6" />
<line x1="76.31" y1="122.60" x2="78.28" y2="122.51" stroke="#1a1a1a" stroke-width="0.6" />
<line x1="76.55" y1="121.04" x2="78.47" y2="121.38" stroke="#1a1a1a" stroke-width="0.6" />
<line x1="77.08" y1="119.49" x2="78.86" y2="120.26" stroke="#1a1a1a" stroke-width="0.6" />
<line x1="77.86" y1="118.06" x2="79.42" y2="119.21" stroke="#1a1a1a" stroke-width="0.6" />
<line x1="78.85" y1="116.82" x2="80.13" y2="118.30" stroke="#1a1a1a" stroke-width="0.6" />
<line x1="79.98" y1="115.86" x2="80.93" y2="117.60" stroke="#1a1a1a" stroke-width="0.6" />
<line x1="81.19" y1="115.24" x2="81.78" y2="117.13" stroke="#1a1a1a" stroke-width="0.6" />
<line x1="82.40" y1="114.99" x2="82.62" y2="116.94" stroke="#1a1a1a" stroke-width="0.6" />
<line x1="83.54" y1="115.14" x2="83.41" y2="117.02" stroke="#1a1a1a" stroke-width="0.6" />
<line x1="84.53" y1="115.66" x2="84.09" y2="117.39" stroke="#1a1a1a" stroke-width="0.6" />
<ellipse cx="92.60" cy="126.50" rx="4.50" ry="6.60" transform="rotate(23.67745095004319 92.60 126.50)" fill="#fff" stroke="#1a1a1a" stroke-width="0.9"/>
<ellipse cx="93.10" cy="126.70" rx="3.30" ry="5.00" transform="rotate(23.67745095004319 93.10 126.70)" fill="none" stroke="#444" stroke-width="0.6"/>
<ellipse cx="93.40" cy="126.80" rx="2.20" ry="3.40" transform="rotate(23.67745095004319 93.40 126.80)" fill="none" stroke="#333" stroke-width="0.7"/>
<line x1="90.71" y1="132.77" x2="91.69" y2="131.25" stroke="#1a1a1a" stroke-width="0.6" />
<line x1="89.65" y1="132.39" x2="90.97" y2="130.99" stroke="#1a1a1a" stroke-width="0.6" />
<line x1="88.77" y1="131.65" x2="90.37" y2="130.47" stroke="#1a1a1a" stroke-width="0.6" />
<line x1="88.14" y1="130.60" x2="89.94" y2="129.72" stroke="#1a1a1a" stroke-width="0.6" />
<line x1="87.78" y1="129.29" x2="89.71" y2="128.78" stroke="#1a1a1a" stroke-width="0.6" />
<line x1="87.71" y1="127.80" x2="89.68" y2="127.71" stroke="#1a1a1a" stroke-width="0.6" />
<line x1="87.95" y1="126.24" x2="89.87" y2="126.58" stroke="#1a1a1a" stroke-width="0.6" />
<line x1="88.48" y1="124.69" x2="90.26" y2="125.46" stroke="#1a1a1a" stroke-width="0.6" />
<line x1="89.26" y1="123.26" x2="90.82" y2="124.41" stroke="#1a1a1a" stroke-width="0.6" />
<line x1="90.25" y1="122.02" x2="91.53" y2="123.50" stroke="#1a1a1a" stroke-width="0.6" />
<line x1="91.38" y1="121.06" x2="92.33" y2="122.80" stroke="#1a1a1a" stroke-width="0.6" />
<line x1="92.59" y1="120.44" x2="93.18" y2="122.33" stroke="#1a1a1a" stroke-width="0.6" />
<line x1="93.80" y1="120.19" x2="94.02" y2="122.14" stroke="#1a1a1a" stroke-width="0.6" />
<line x1="94.94" y1="120.34" x2="94.81" y2="122.22" stroke="#1a1a1a" stroke-width="0.6" />
<line x1="95.93" y1="120.86" x2="95.49" y2="122.59" stroke="#1a1a1a" stroke-width="0.6" />
<ellipse cx="103.40" cy="131.60" rx="5.70" ry="8.40" transform="rotate(23.67745095004319 103.40 131.60)" fill="none" stroke="#222" stroke-width="0.8"/>
<ellipse cx="104.00" cy="131.80" rx="4.60" ry="7.10" transform="rotate(23.67745095004319 104.00 131.80)" fill="none" stroke="#333" stroke-width="0.6"/>
<path d="M98.57,138.58 L98.07,138.11 L97.63,137.56 L97.27,136.92 L96.98,136.20 L96.76,135.42 L96.63,134.59 L96.58,133.71 L96.62,132.81 L96.74,131.88 L96.94,130.95 L97.22,130.02 L97.58,129.11 L98.01,128.23 L98.50,127.40 L99.05,126.62 L99.65,125.90 L100.29,125.26 L100.97,124.70 L101.67,124.23 L102.39,123.86 L103.11,123.59 L103.83,123.43 L104.53,123.37 L105.22,123.43" fill="none" stroke="#555" stroke-width="0.5" />
<circle cx="31.80" cy="61.50" r="8.00" fill="#fff" stroke="#222" stroke-width="0.6"/>
<g transform="translate(31.80 61.50)"><path d="M-5.0,1.8 L-2.2,-0.4 L0.2,-0.6 L2.2,-3.4 L3.4,-2.6 L1.6,0.6 L0.4,2.2 L-1.6,2.0 L-2.0,4.0 L-3.0,3.6 L-3.2,2.4 Z" fill="none" stroke="#1a1a1a" stroke-width="0.75" stroke-linejoin="round"/><ellipse cx="2.9" cy="-3.6" rx="0.9" ry="1.3" transform="rotate(30 2.9 -3.6)" fill="none" stroke="#1a1a1a" stroke-width="0.7"/><path d="M1.2,-1.4 L2.4,0.2" stroke="#222" stroke-width="0.9" fill="none"/></g>
<circle cx="159.80" cy="127.00" r="7.60" fill="#fff" stroke="#222" stroke-width="0.6"/>
<g transform="translate(159.80 127.00)"><path d="M-5.2,-0.6 L-5.2,4.6 L3.8,4.6 L3.8,-1.2" fill="none" stroke="#333" stroke-width="0.55"/><rect x="-5.4" y="-0.6" width="7.8" height="2.6" fill="#3a3a3a" stroke="#222" stroke-width="0.3"/><path d="M-4.4,3.4 L3.2,3.4" stroke="#777" stroke-width="0.4"/><path d="M2.2,-0.4 L5.4,-4.4" stroke="#111" stroke-width="0.8"/></g>
<path d="M467.50,273.00 L526.30,297.50 L497.50,320.40 L438.80,295.20 Z" fill="none" stroke="#262626" stroke-width="0.55" stroke-dasharray="6.4 1.8 1.6 1.8"/>
<line x1="433.40" y1="176.40" x2="451.69" y2="279.26" stroke="#1a1a1a" stroke-width="0.6" />
<path d="M452.30,284.45 L450.67,279.44 L452.71,279.08 L452.90,284.35 Z" fill="#0a0a0a" stroke="#0a0a0a" stroke-width="0.2"/>
<line x1="452.60" y1="196.60" x2="463.49" y2="276.03" stroke="#1a1a1a" stroke-width="0.6" />
<path d="M463.90,281.24 L462.47,276.17 L464.52,275.89 L464.50,281.16 Z" fill="#0a0a0a" stroke="#0a0a0a" stroke-width="0.2"/>
<line x1="475.60" y1="222.40" x2="478.91" y2="281.69" stroke="#1a1a1a" stroke-width="0.6" />
<path d="M478.90,286.92 L477.88,281.75 L479.94,281.63 L479.50,286.88 Z" fill="#0a0a0a" stroke="#0a0a0a" stroke-width="0.2"/>
<line x1="487.20" y1="250.00" x2="500.32" y2="291.32" stroke="#1a1a1a" stroke-width="0.6" />
<path d="M501.61,296.39 L499.33,291.64 L501.31,291.01 L502.19,296.21 Z" fill="#0a0a0a" stroke="#0a0a0a" stroke-width="0.2"/>
<ellipse cx="464.20" cy="288.10" rx="4.50" ry="6.50" transform="rotate(23.67745095004319 464.20 288.10)" fill="none" stroke="#333" stroke-width="0.7"/>
<ellipse cx="464.60" cy="288.30" rx="3.60" ry="5.40" transform="rotate(23.67745095004319 464.60 288.30)" fill="none" stroke="#555" stroke-width="0.6"/>
<path d="M459.94,292.98 L459.65,292.57 L459.41,292.12 L459.22,291.62 L459.07,291.09 L458.98,290.53 L458.93,289.93 L458.93,289.32 L458.98,288.70 L459.08,288.07 L459.24,287.43 L459.43,286.81 L459.68,286.19 L459.97,285.60 L460.29,285.03 L460.65,284.49 L461.05,283.98 L461.47,283.52 L461.92,283.11 L462.39,282.74 L462.87,282.43 L463.36,282.18 L463.86,281.98 L464.35,281.85 L464.84,281.79" fill="none" stroke="#777" stroke-width="0.5" />
<ellipse cx="480.20" cy="295.40" rx="5.00" ry="8.00" transform="rotate(23.67745095004319 480.20 295.40)" fill="#fff" stroke="#2a2a2a" stroke-width="0.7"/>
<ellipse cx="482.40" cy="296.00" rx="4.20" ry="6.60" transform="rotate(23.67745095004319 482.40 296.00)" fill="#fff" stroke="#222" stroke-width="0.8"/>
<ellipse cx="483.60" cy="296.40" rx="3.90" ry="6.00" transform="rotate(23.67745095004319 483.60 296.40)" fill="#fff" stroke="#555" stroke-width="0.5"/>
<ellipse cx="484.60" cy="296.80" rx="3.60" ry="5.60" transform="rotate(23.67745095004319 484.60 296.80)" fill="#fff" stroke="#222" stroke-width="0.7"/>
<ellipse cx="485.30" cy="296.90" rx="2.60" ry="4.20" transform="rotate(23.67745095004319 485.30 296.90)" fill="#161616" stroke="#111" stroke-width="0.6"/>
<path d="M496.75,311.76 L496.34,311.51 L496.00,311.15 L495.72,310.68 L495.51,310.10 L495.37,309.44 L495.31,308.70 L495.33,307.89 L495.42,307.03 L495.59,306.13 L495.83,305.20 L496.13,304.28 L496.50,303.35 L496.93,302.46 L497.41,301.60 L497.92,300.80 L498.47,300.07 L499.04,299.42 L499.63,298.86 L500.21,298.40 L500.79,298.05 L501.36,297.82 L501.89,297.70 L502.40,297.71 L502.85,297.84 L509.54,301.02 L509.84,301.22 L510.08,301.53 L510.26,301.95 L510.38,302.47 L510.43,303.08 L510.42,303.76 L510.34,304.52 L510.20,305.34 L509.99,306.19 L509.73,307.07 L509.42,307.97 L509.05,308.86 L508.64,309.73 L508.20,310.57 L507.73,311.36 L507.24,312.09 L506.74,312.74 L506.23,313.31 L505.73,313.79 L505.25,314.16 L504.79,314.42 L504.36,314.57 L503.96,314.61 L503.62,314.52 Z" fill="#fff" stroke="#2a2a2a" stroke-width="0.65" />
<path d="M500.46,313.35 L500.13,313.04 L499.84,312.63 L499.62,312.13 L499.46,311.54 L499.36,310.89 L499.34,310.16 L499.38,309.39 L499.48,308.57 L499.66,307.72 L499.89,306.85 L500.18,305.98 L500.53,305.12 L500.93,304.28 L501.37,303.48 L501.85,302.72 L502.36,302.01 L502.89,301.38 L503.43,300.83 L503.98,300.36 L504.53,299.98 L505.07,299.70 L505.59,299.53 L506.08,299.46 L506.54,299.50" fill="none" stroke="#555" stroke-width="0.55" />
<ellipse cx="511.20" cy="295.00" rx="1.80" ry="2.20" transform="rotate(20 511.20 295.00)" fill="#0a0a0a" stroke="#0a0a0a" stroke-width="0.4"/>
<line x1="511.30" y1="296.00" x2="511.30" y2="298.60" stroke="#111" stroke-width="1.4" />
<line x1="530.60" y1="276.20" x2="516.59" y2="289.42" stroke="#1a1a1a" stroke-width="0.6" />
<path d="M512.79,292.58 L515.88,288.66 L517.30,290.17 L513.21,293.02 Z" fill="#0a0a0a" stroke="#0a0a0a" stroke-width="0.2"/>
<line x1="532.80" y1="304.20" x2="518.15" y2="298.10" stroke="#1a1a1a" stroke-width="0.6" />
<path d="M513.72,295.92 L518.55,297.14 L517.75,299.05 L513.48,296.48 Z" fill="#0a0a0a" stroke="#0a0a0a" stroke-width="0.2"/>
<line x1="511.30" y1="341.60" x2="511.30" y2="302.53" stroke="#1a1a1a" stroke-width="0.6" />
<path d="M511.60,297.60 L512.34,302.53 L510.26,302.53 L511.00,297.60 Z" fill="#0a0a0a" stroke="#0a0a0a" stroke-width="0.2"/>
<circle cx="536.20" cy="270.80" r="7.80" fill="#fff" stroke="#222" stroke-width="0.6"/>
<g transform="translate(536.20 270.80)"><path d="M-5.0,1.8 L-2.2,-0.4 L0.2,-0.6 L2.2,-3.4 L3.4,-2.6 L1.6,0.6 L0.4,2.2 L-1.6,2.0 L-2.0,4.0 L-3.0,3.6 L-3.2,2.4 Z" fill="none" stroke="#1a1a1a" stroke-width="0.75" stroke-linejoin="round"/><ellipse cx="2.9" cy="-3.6" rx="0.9" ry="1.3" transform="rotate(30 2.9 -3.6)" fill="none" stroke="#1a1a1a" stroke-width="0.7"/><path d="M1.2,-1.4 L2.4,0.2" stroke="#222" stroke-width="0.9" fill="none"/></g>
<circle cx="540.50" cy="307.10" r="8.00" fill="#fff" stroke="#222" stroke-width="0.6"/>
<g transform="translate(540.50 307.10)"><path d="M-0.9,-5.6 Q0,-6.2 0.9,-5.6 L1.3,-2.8 L2.1,-1.0 L2.3,5.4 L-2.3,5.4 L-2.1,-1.0 L-1.3,-2.8 Z" fill="#fff" stroke="#1a1a1a" stroke-width="0.7"/><rect x="-1.2" y="-3.6" width="2.4" height="1.6" fill="#555" stroke="none"/><rect x="-1.5" y="-0.6" width="3.0" height="2.0" fill="#333" stroke="none"/><rect x="-1.2" y="2.4" width="2.4" height="1.6" fill="#555" stroke="none"/><path d="M-2.2,4.6 L2.2,4.6" stroke="#222" stroke-width="0.6"/></g>
<rect x="437.20" y="320.20" width="46.40" height="18.80" fill="none" stroke="#222" stroke-width="0.55" stroke-dasharray="5.4 1.7"/>
<line x1="453.60" y1="323.20" x2="473.80" y2="304.27" stroke="#1a1a1a" stroke-width="0.6" />
<path d="M477.61,301.12 L474.51,305.03 L473.09,303.52 L477.19,300.68 Z" fill="#0a0a0a" stroke="#0a0a0a" stroke-width="0.2"/>
<circle cx="449.00" cy="329.20" r="7.00" fill="#fff" stroke="#222" stroke-width="0.6"/>
<g transform="translate(449.00 329.20)"><path d="M-5.0,1.8 L-2.2,-0.4 L0.2,-0.6 L2.2,-3.4 L3.4,-2.6 L1.6,0.6 L0.4,2.2 L-1.6,2.0 L-2.0,4.0 L-3.0,3.6 L-3.2,2.4 Z" fill="none" stroke="#1a1a1a" stroke-width="0.75" stroke-linejoin="round"/><ellipse cx="2.9" cy="-3.6" rx="0.9" ry="1.3" transform="rotate(30 2.9 -3.6)" fill="none" stroke="#1a1a1a" stroke-width="0.7"/><path d="M1.2,-1.4 L2.4,0.2" stroke="#222" stroke-width="0.9" fill="none"/></g>
<line x1="468.20" y1="361.20" x2="461.90" y2="344.03" stroke="#1a1a1a" stroke-width="0.6" />
<path d="M460.48,339.30 L462.87,343.67 L460.93,344.38 L459.92,339.50 Z" fill="#0a0a0a" stroke="#0a0a0a" stroke-width="0.2"/>
<line x1="468.20" y1="361.20" x2="474.20" y2="361.20" stroke="#1a1a1a" stroke-width="0.6" />
<path d="M57.5,221.8 L47.8,221.8 Q40.4,223.6 38.3,233.6 L38.0,236.6 L32.0,236.5 L29.4,226.0 L27.2,219.6 Q27.4,216.6 30.4,215.3 L70.0,200.9 Q85.0,197.3 98.0,196.6 Q112.0,196.5 124.0,197.9 L138.0,200.2 Q143.6,199.6 145.2,202.0 L146.6,206.0 Q147.6,213.0 146.0,218.0 Q144.8,221.8 141.0,222.3 L130.0,222.5" fill="none" stroke="#1c1c1c" stroke-width="0.6" />
<path d="M34.2,214.0 L35.4,215.9 L70.0,203.2 Q84,199.6 92,198.6" fill="none" stroke="#333" stroke-width="0.5" />
<path d="M106,197.6 Q120,198.4 137.6,201.6 L141.2,202.2" fill="none" stroke="#333" stroke-width="0.5" />
<line x1="31.00" y1="232.20" x2="55.60" y2="207.60" stroke="#2a2a2a" stroke-width="0.5" />
<line x1="70.00" y1="210.40" x2="82.20" y2="198.20" stroke="#2a2a2a" stroke-width="0.5" />
<line x1="58.60" y1="221.80" x2="69.40" y2="211.00" stroke="#2a2a2a" stroke-width="0.5" />
<line x1="86.40" y1="211.20" x2="95.40" y2="202.20" stroke="#2a2a2a" stroke-width="0.5" />
<line x1="76.00" y1="221.60" x2="86.00" y2="211.60" stroke="#555" stroke-width="0.4" />
<line x1="106.00" y1="208.80" x2="117.40" y2="197.40" stroke="#2a2a2a" stroke-width="0.5" />
<line x1="86.00" y1="228.80" x2="92.00" y2="222.80" stroke="#2a2a2a" stroke-width="0.5" />
<line x1="119.00" y1="213.00" x2="131.00" y2="201.00" stroke="#2a2a2a" stroke-width="0.5" />
<line x1="106.80" y1="225.20" x2="111.00" y2="221.00" stroke="#2a2a2a" stroke-width="0.5" />
<line x1="144.20" y1="201.00" x2="139.20" y2="210.40" stroke="#2a2a2a" stroke-width="0.5" />
<line x1="130.00" y1="219.20" x2="139.00" y2="210.20" stroke="#666" stroke-width="0.4" />
<rect x="91.80" y="197.40" width="13.60" height="6.80" fill="#d8d8d8" stroke="#222" stroke-width="0.7" />
<line x1="93.60" y1="198.20" x2="93.60" y2="203.60" stroke="#444" stroke-width="0.5" />
<line x1="96.80" y1="198.20" x2="96.80" y2="203.60" stroke="#444" stroke-width="0.5" />
<line x1="100.40" y1="198.20" x2="100.40" y2="203.60" stroke="#444" stroke-width="0.5" />
<line x1="103.60" y1="198.20" x2="103.60" y2="203.60" stroke="#444" stroke-width="0.5" />
<line x1="93.60" y1="198.40" x2="103.60" y2="198.40" stroke="#777" stroke-width="0.4" />
<defs><pattern id="hp30" width="3.2" height="3.2" patternUnits="userSpaceOnUse" patternTransform="rotate(-32)"><rect width="3.2" height="3.2" fill="#fff"/><line x1="0" y1="1.6" x2="3.2" y2="1.6" stroke="#222" stroke-width="0.6"/></pattern><pattern id="hp30g" width="2.0" height="2.0" patternUnits="userSpaceOnUse" patternTransform="rotate(-32)"><rect width="2" height="2" fill="#c9c9c9"/><line x1="0" y1="1" x2="2" y2="1" stroke="#777" stroke-width="0.7"/></pattern><pattern id="hpR" width="3.0" height="3.0" patternUnits="userSpaceOnUse" patternTransform="rotate(35)"><rect width="3" height="3" fill="#fff"/><line x1="0" y1="1.5" x2="3" y2="1.5" stroke="#222" stroke-width="0.7"/></pattern><pattern id="thr" width="4" height="1.45" patternUnits="userSpaceOnUse"><rect width="4" height="1.45" fill="#202020"/><line x1="0" y1="0.2" x2="4" y2="0.2" stroke="#777" stroke-width="0.35"/></pattern><pattern id="thr2" width="4" height="2.2" patternUnits="userSpaceOnUse" patternTransform="translate(0 257.2)"><rect width="4" height="2.2" fill="#fff"/><line x1="0" y1="0.6" x2="4" y2="0.6" stroke="#262626" stroke-width="1.0"/></pattern><pattern id="spr" width="4" height="1.5" patternUnits="userSpaceOnUse"><rect width="4" height="1.5" fill="#ddd"/><line x1="0" y1="0.7" x2="4" y2="0.7" stroke="#333" stroke-width="0.7"/></pattern></defs>
<path d="M91.6,209.4 L95.3,209.4 L95.3,222.4 L96.0,222.4 L96.0,228.2 L101.4,228.2 L101.4,222.4 L101.9,222.4 L101.9,209.4 L105.6,209.4 L105.6,231.0 L106.4,231.0 L106.4,270.6 L90.6,270.6 L90.6,231.0 L91.6,231.0 Z" fill="url(#hp30)" stroke="#222" stroke-width="0.6" />
<path d="M91.60,209.40 L89.40,209.40 L89.40,214.80 L91.60,214.80" fill="none" stroke="#333" stroke-width="0.5" />
<path d="M105.60,209.40 L107.80,209.40 L107.80,214.80 L105.60,214.80" fill="none" stroke="#333" stroke-width="0.5" />
<rect x="95.40" y="204.20" width="6.40" height="17.40" fill="url(#hp30g)" stroke="none" stroke-width="0.0" />
<path d="M95.4,204.2 L95.4,221.4 L101.8,221.4 L101.8,204.2" fill="none" stroke="#0c0c0c" stroke-width="1.0" />
<line x1="95.20" y1="221.30" x2="102.00" y2="221.30" stroke="#0a0a0a" stroke-width="1.6" />
<path d="M57.50,221.80 L57.50,210.50 L68.60,210.50 L68.60,216.60 L63.60,216.60 L63.60,221.80" fill="none" stroke="#1c1c1c" stroke-width="0.6" />
<path d="M139.70,221.80 L139.70,210.50 L128.60,210.50 L128.60,216.60 L133.60,216.60 L133.60,221.80" fill="none" stroke="#1c1c1c" stroke-width="0.6" />
<line x1="57.50" y1="221.80" x2="63.60" y2="221.80" stroke="#1c1c1c" stroke-width="0.6" />
<path d="M47.80,221.80 L63.60,221.80" fill="none" stroke="#1c1c1c" stroke-width="0.6" />
<path d="M149.40,221.80 L133.60,221.80" fill="none" stroke="#1c1c1c" stroke-width="0.6" />
<path d="M52.20,223.80 L62.60,223.80" fill="none" stroke="#1c1c1c" stroke-width="0.55" />
<path d="M145.00,223.80 L134.60,223.80" fill="none" stroke="#1c1c1c" stroke-width="0.55" />
<path d="M52.20,223.80 L52.20,228.20 L56.40,228.20 L56.40,234.20" fill="none" stroke="#1c1c1c" stroke-width="0.55" />
<path d="M145.00,223.80 L145.00,228.20 L140.80,228.20 L140.80,234.20" fill="none" stroke="#1c1c1c" stroke-width="0.55" />
<path d="M62.60,223.80 L62.60,221.80" fill="none" stroke="#1c1c1c" stroke-width="0.5" />
<path d="M134.60,223.80 L134.60,221.80" fill="none" stroke="#1c1c1c" stroke-width="0.5" />
<circle cx="57.60" cy="236.50" r="2.20" fill="#fff" stroke="#222" stroke-width="0.6"/>
<circle cx="139.60" cy="236.50" r="2.20" fill="#fff" stroke="#222" stroke-width="0.6"/>
<path d="M56.20,239.20 L58.30,240.00 L56.20,240.80 L58.30,241.60 L56.20,242.40 L58.30,243.20 L56.20,244.00 L58.30,244.80 L56.20,245.60 L58.30,246.40 L56.20,247.20 L58.30,248.00 L56.20,248.80 L58.30,249.60 L56.20,250.40 L58.30,251.20 L56.20,252.00 L58.30,252.80 L56.20,253.60 L58.30,254.40" fill="none" stroke="#222" stroke-width="0.55" />
<path d="M141.00,239.20 L138.90,240.00 L141.00,240.80 L138.90,241.60 L141.00,242.40 L138.90,243.20 L141.00,244.00 L138.90,244.80 L141.00,245.60 L138.90,246.40 L141.00,247.20 L138.90,248.00 L141.00,248.80 L138.90,249.60 L141.00,250.40 L138.90,251.20 L141.00,252.00 L138.90,252.80 L141.00,253.60 L138.90,254.40" fill="none" stroke="#222" stroke-width="0.55" />
<path d="M56.60,238.80 L56.60,239.40" fill="none" stroke="#1c1c1c" stroke-width="0.5" />
<path d="M140.60,238.80 L140.60,239.40" fill="none" stroke="#1c1c1c" stroke-width="0.5" />
<path d="M57.40,254.50 L63.20,254.50 L63.20,271.60" fill="none" stroke="#1c1c1c" stroke-width="0.6" />
<path d="M139.80,254.50 L134.00,254.50 L134.00,271.60" fill="none" stroke="#1c1c1c" stroke-width="0.6" />
<path d="M130.00,222.50 L144.00,222.50 L144.00,229.00 L140.60,229.00 L140.60,234.20" fill="none" stroke="#1c1c1c" stroke-width="0.55" />
<line x1="56.40" y1="228.90" x2="68.20" y2="217.10" stroke="#2a2a2a" stroke-width="0.5" />
<line x1="58.80" y1="245.90" x2="75.40" y2="229.30" stroke="#2a2a2a" stroke-width="0.5" />
<line x1="129.00" y1="242.40" x2="140.60" y2="230.80" stroke="#2a2a2a" stroke-width="0.5" />
<line x1="129.00" y1="256.80" x2="139.20" y2="246.60" stroke="#2a2a2a" stroke-width="0.5" />
<line x1="122.00" y1="249.40" x2="129.00" y2="242.40" stroke="#555" stroke-width="0.4" />
<line x1="63.40" y1="257.20" x2="68.00" y2="252.60" stroke="#444" stroke-width="0.45" />
<line x1="63.20" y1="271.60" x2="134.00" y2="271.60" stroke="#333" stroke-width="0.5" />
<path d="M69.00,229.00 L90.40,229.00" fill="none" stroke="#1c1c1c" stroke-width="0.6" />
<path d="M128.20,229.00 L106.80,229.00" fill="none" stroke="#1c1c1c" stroke-width="0.6" />
<path d="M69.00,231.00 L90.40,231.00" fill="none" stroke="#1c1c1c" stroke-width="0.6" />
<path d="M128.20,231.00 L106.80,231.00" fill="none" stroke="#1c1c1c" stroke-width="0.6" />
<path d="M69.00,229.00 L69.00,231.00" fill="none" stroke="#1c1c1c" stroke-width="0.5" />
<path d="M128.20,229.00 L128.20,231.00" fill="none" stroke="#1c1c1c" stroke-width="0.5" />
<path d="M70.20,220.40 L70.20,226.80 L74.00,226.80 L74.00,222.40 L72.20,220.40 L72.20,225.00" fill="none" stroke="#333" stroke-width="0.5" />
<path d="M127.00,220.40 L127.00,226.80 L123.20,226.80 L123.20,222.40 L125.00,220.40 L125.00,225.00" fill="none" stroke="#333" stroke-width="0.5" />
<rect x="75.60" y="209.00" width="10.40" height="26.20" fill="#fff" stroke="#222" stroke-width="0.6" />
<rect x="79.00" y="211.20" width="6.60" height="3.60" fill="url(#spr)" stroke="none" stroke-width="0.0" />
<rect x="78.60" y="210.60" width="7.20" height="4.60" fill="none" stroke="#333" stroke-width="0.5" />
<line x1="77.60" y1="217.20" x2="86.00" y2="217.20" stroke="#111" stroke-width="1.3" />
<rect x="76.40" y="218.40" width="8.80" height="4.60" fill="none" stroke="#555" stroke-width="0.5" />
<rect x="76.40" y="223.60" width="8.80" height="4.80" fill="none" stroke="#555" stroke-width="0.5" />
<line x1="75.60" y1="231.00" x2="86.00" y2="231.00" stroke="#333" stroke-width="0.5" />
<rect x="77.00" y="231.40" width="7.40" height="3.80" fill="none" stroke="#444" stroke-width="0.5" />
<rect x="110.60" y="209.00" width="9.80" height="5.80" fill="#fff" stroke="#222" stroke-width="0.6" />
<rect x="111.80" y="211.20" width="6.60" height="3.60" fill="url(#spr)" stroke="none" stroke-width="0.0" />
<rect x="111.40" y="210.60" width="7.20" height="4.60" fill="none" stroke="#333" stroke-width="0.5" />
<line x1="110.80" y1="217.20" x2="119.00" y2="217.20" stroke="#111" stroke-width="1.3" />
<path d="M110.6,214.8 L110.6,234.6 L115.6,236.8 L121.6,232.0 L121.4,218.4 L119.2,217.6 L119.2,214.8 Z" fill="url(#hpR)" stroke="#222" stroke-width="0.6" />
<path d="M122.00,221.40 L124.60,219.40 L126.60,219.40 L126.60,226.00 L122.20,226.00" fill="none" stroke="#333" stroke-width="0.5" />
<path d="M126.4,223.6 L130.6,222.6 L130.6,224.6 Z" fill="#111" stroke="#111" stroke-width="0.3" />
<path d="M114.6,236.4 L118.6,237.4 L119.4,240.6 L116.2,239.4 Z" fill="#0a0a0a" stroke="#0a0a0a" stroke-width="0.4" />
<path d="M75.4,236.2 L79.0,237.0 L78.2,238.6 L75.2,238.0 Z" fill="#444" stroke="#222" stroke-width="0.3" />
<line x1="87.00" y1="231.00" x2="87.00" y2="270.60" stroke="#444" stroke-width="0.5" />
<line x1="110.20" y1="231.00" x2="110.20" y2="270.60" stroke="#444" stroke-width="0.5" />
<line x1="88.60" y1="231.00" x2="88.60" y2="270.60" stroke="#444" stroke-width="0.5" />
<line x1="108.60" y1="231.00" x2="108.60" y2="270.60" stroke="#444" stroke-width="0.5" />
<line x1="91.20" y1="246.00" x2="91.20" y2="270.00" stroke="#1a1a1a" stroke-width="1.3" stroke-dasharray="2.4 1.0"/>
<line x1="106.00" y1="249.00" x2="106.00" y2="270.00" stroke="#1a1a1a" stroke-width="1.3" stroke-dasharray="2.4 1.0"/>
<path d="M66.80,237.80 L82.60,237.80" fill="none" stroke="#1c1c1c" stroke-width="0.6" />
<path d="M130.40,237.80 L114.60,237.80" fill="none" stroke="#1c1c1c" stroke-width="0.6" />
<path d="M66.80,237.80 L66.80,241.60" fill="none" stroke="#1c1c1c" stroke-width="0.5" />
<path d="M130.40,237.80 L130.40,241.60" fill="none" stroke="#1c1c1c" stroke-width="0.5" />
<path d="M82.60,231.00 L82.60,270.60" fill="none" stroke="#333" stroke-width="0.5" />
<path d="M114.60,231.00 L114.60,270.60" fill="none" stroke="#333" stroke-width="0.5" />
<path d="M68.20,242.00 L68.20,242.00 L69.10,242.62 L68.20,243.24 L69.10,243.86 L68.20,244.48 L69.10,245.10 L68.20,245.72 L69.10,246.34 L68.20,246.96 L69.10,247.58 L68.20,248.20 L69.10,248.82 L68.20,249.44 L69.10,250.06 L68.20,250.68 L69.10,251.30 L68.20,251.92 L69.10,252.54 L68.20,253.16 L69.10,253.78 L68.20,254.40 L69.10,255.02 L68.20,255.64 L69.10,256.26 L68.60,256.60 L82.40,256.60 L82.40,242.00 Z" fill="#242424" stroke="#111" stroke-width="0.3" />
<path d="M129.00,242.00 L129.00,242.00 L128.10,242.62 L129.00,243.24 L128.10,243.86 L129.00,244.48 L128.10,245.10 L129.00,245.72 L128.10,246.34 L129.00,246.96 L128.10,247.58 L129.00,248.20 L128.10,248.82 L129.00,249.44 L128.10,250.06 L129.00,250.68 L128.10,251.30 L129.00,251.92 L128.10,252.54 L129.00,253.16 L128.10,253.78 L129.00,254.40 L128.10,255.02 L129.00,255.64 L128.10,256.26 L128.60,256.60 L114.80,256.60 L114.80,242.00 Z" fill="#242424" stroke="#111" stroke-width="0.3" />
<line x1="69.40" y1="243.20" x2="82.20" y2="243.20" stroke="#6e6e6e" stroke-width="0.3" />
<line x1="127.80" y1="243.20" x2="115.00" y2="243.20" stroke="#6e6e6e" stroke-width="0.3" />
<line x1="69.40" y1="244.65" x2="82.20" y2="244.65" stroke="#6e6e6e" stroke-width="0.3" />
<line x1="127.80" y1="244.65" x2="115.00" y2="244.65" stroke="#6e6e6e" stroke-width="0.3" />
<line x1="69.40" y1="246.10" x2="82.20" y2="246.10" stroke="#6e6e6e" stroke-width="0.3" />
<line x1="127.80" y1="246.10" x2="115.00" y2="246.10" stroke="#6e6e6e" stroke-width="0.3" />
<line x1="69.40" y1="247.55" x2="82.20" y2="247.55" stroke="#6e6e6e" stroke-width="0.3" />
<line x1="127.80" y1="247.55" x2="115.00" y2="247.55" stroke="#6e6e6e" stroke-width="0.3" />
<line x1="69.40" y1="249.00" x2="82.20" y2="249.00" stroke="#6e6e6e" stroke-width="0.3" />
<line x1="127.80" y1="249.00" x2="115.00" y2="249.00" stroke="#6e6e6e" stroke-width="0.3" />
<line x1="69.40" y1="250.45" x2="82.20" y2="250.45" stroke="#6e6e6e" stroke-width="0.3" />
<line x1="127.80" y1="250.45" x2="115.00" y2="250.45" stroke="#6e6e6e" stroke-width="0.3" />
<line x1="69.40" y1="251.90" x2="82.20" y2="251.90" stroke="#6e6e6e" stroke-width="0.3" />
<line x1="127.80" y1="251.90" x2="115.00" y2="251.90" stroke="#6e6e6e" stroke-width="0.3" />
<line x1="69.40" y1="253.35" x2="82.20" y2="253.35" stroke="#6e6e6e" stroke-width="0.3" />
<line x1="127.80" y1="253.35" x2="115.00" y2="253.35" stroke="#6e6e6e" stroke-width="0.3" />
<line x1="69.40" y1="254.80" x2="82.20" y2="254.80" stroke="#6e6e6e" stroke-width="0.3" />
<line x1="127.80" y1="254.80" x2="115.00" y2="254.80" stroke="#6e6e6e" stroke-width="0.3" />
<line x1="69.40" y1="256.25" x2="82.20" y2="256.25" stroke="#6e6e6e" stroke-width="0.3" />
<line x1="127.80" y1="256.25" x2="115.00" y2="256.25" stroke="#6e6e6e" stroke-width="0.3" />
<line x1="68.40" y1="258.50" x2="82.80" y2="258.50" stroke="#4a4a4a" stroke-width="1.0" />
<line x1="128.80" y1="258.50" x2="114.40" y2="258.50" stroke="#4a4a4a" stroke-width="1.0" />
<line x1="68.40" y1="260.50" x2="82.80" y2="260.50" stroke="#4a4a4a" stroke-width="1.0" />
<line x1="128.80" y1="260.50" x2="114.40" y2="260.50" stroke="#4a4a4a" stroke-width="1.0" />
<line x1="68.40" y1="262.50" x2="82.80" y2="262.50" stroke="#4a4a4a" stroke-width="1.0" />
<line x1="128.80" y1="262.50" x2="114.40" y2="262.50" stroke="#4a4a4a" stroke-width="1.0" />
<line x1="68.40" y1="264.50" x2="82.80" y2="264.50" stroke="#4a4a4a" stroke-width="1.0" />
<line x1="128.80" y1="264.50" x2="114.40" y2="264.50" stroke="#4a4a4a" stroke-width="1.0" />
<line x1="68.40" y1="266.50" x2="82.80" y2="266.50" stroke="#4a4a4a" stroke-width="1.0" />
<line x1="128.80" y1="266.50" x2="114.40" y2="266.50" stroke="#4a4a4a" stroke-width="1.0" />
<line x1="68.40" y1="268.50" x2="82.80" y2="268.50" stroke="#4a4a4a" stroke-width="1.0" />
<line x1="128.80" y1="268.50" x2="114.40" y2="268.50" stroke="#4a4a4a" stroke-width="1.0" />
<line x1="68.40" y1="270.50" x2="82.80" y2="270.50" stroke="#4a4a4a" stroke-width="1.0" />
<line x1="128.80" y1="270.50" x2="114.40" y2="270.50" stroke="#4a4a4a" stroke-width="1.0" />
<line x1="68.70" y1="257.00" x2="68.70" y2="271.60" stroke="#333" stroke-width="0.9" />
<line x1="128.50" y1="257.00" x2="128.50" y2="271.60" stroke="#333" stroke-width="0.9" />
<circle cx="80.00" cy="240.40" r="1.90" fill="#fff" stroke="#222" stroke-width="0.5"/>
<circle cx="80.00" cy="247.50" r="1.90" fill="#fff" stroke="#222" stroke-width="0.5"/>
<circle cx="80.00" cy="262.60" r="1.90" fill="#fff" stroke="#222" stroke-width="0.5"/>
<circle cx="116.60" cy="242.40" r="1.90" fill="#fff" stroke="#222" stroke-width="0.5"/>
<circle cx="116.60" cy="255.00" r="1.90" fill="#fff" stroke="#222" stroke-width="0.5"/>
<circle cx="116.60" cy="269.40" r="1.90" fill="#fff" stroke="#222" stroke-width="0.5"/>
<line x1="171.00" y1="223.40" x2="133.82" y2="223.40" stroke="#1a1a1a" stroke-width="0.55" />
<path d="M128.60,223.10 L133.82,222.37 L133.82,224.44 L128.60,223.70 Z" fill="#0a0a0a" stroke="#0a0a0a" stroke-width="0.2"/>
<line x1="148.60" y1="265.80" x2="142.80" y2="265.80" stroke="#1a1a1a" stroke-width="0.55" />
<line x1="142.80" y1="265.80" x2="120.99" y2="242.78" stroke="#1a1a1a" stroke-width="0.55" />
<path d="M117.82,238.99 L121.74,242.07 L120.24,243.49 L117.38,239.41 Z" fill="#0a0a0a" stroke="#0a0a0a" stroke-width="0.2"/>
<line x1="50.00" y1="193.40" x2="72.88" y2="213.55" stroke="#1a1a1a" stroke-width="0.55" />
<path d="M76.60,217.23 L72.20,214.33 L73.57,212.77 L77.00,216.77 Z" fill="#0a0a0a" stroke="#0a0a0a" stroke-width="0.2"/>
<circle cx="44.90" cy="189.00" r="7.70" fill="#fff" stroke="#222" stroke-width="0.6"/>
<g transform="translate(44.90 189.00)"><path d="M-5.2,-0.6 L-5.2,4.6 L3.8,4.6 L3.8,-1.2" fill="none" stroke="#333" stroke-width="0.55"/><rect x="-5.4" y="-0.6" width="7.8" height="2.6" fill="#3a3a3a" stroke="#222" stroke-width="0.3"/><path d="M-4.4,3.4 L3.2,3.4" stroke="#777" stroke-width="0.4"/><path d="M2.2,-0.4 L5.4,-4.4" stroke="#111" stroke-width="0.8"/></g>
</svg>
<svg class="logo" width="600" height="463" viewBox="0 0 600 463">
<path fill="#5aa8e4" fill-opacity="0.55" d="M 468.40,388.00 L 489.87,388.00 L 488.13,394.13 L 466.67,394.13 Z"/>
<g fill="#2e8fdb" stroke="none"><path d="M 469.00,388.00 L 474.80,388.00 L 474.20,389.60 L 471.47,389.60 L 471.13,390.67 L 473.20,390.67 L 472.67,392.07 L 470.60,392.07 L 469.80,394.13 L 467.07,394.13 Z"/><path fill-rule="evenodd" d="M 475.60,388.00 L 481.47,388.00 L 479.73,394.13 L 473.47,394.13 Z M 477.60,390.27 L 478.80,390.27 L 478.33,392.00 L 477.07,392.00 Z"/><path d="M 482.27,388.00 L 484.80,388.00 L 485.53,389.87 L 487.47,388.00 L 490.13,388.00 L 486.80,391.20 L 488.53,394.13 L 485.60,394.13 L 484.93,392.67 L 483.47,394.13 L 480.80,394.13 L 484.00,391.00 Z"/><path d="M 466.13,394.67 L 475.67,394.67 Q 479.00,398.13 484.00,396.53 Q 487.00,395.47 488.53,394.13 L 491.47,396.40 Q 488.67,396.27 486.13,397.33 Q 479.47,400.00 474.13,395.73 L 468.40,395.60 Z"/></g>
</svg>
</body>
</html>
